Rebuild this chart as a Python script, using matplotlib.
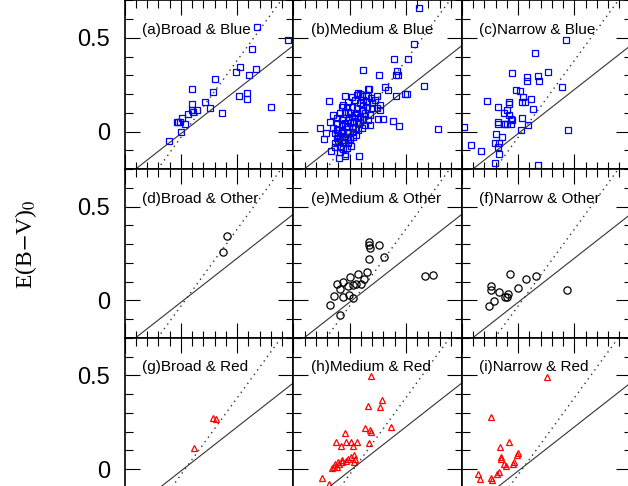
import numpy as np
import matplotlib.pyplot as plt
from matplotlib.ticker import MultipleLocator, FuncFormatter

plt.rcParams['font.family'] = ['Liberation Sans', 'DejaVu Sans']
plt.rcParams['mathtext.fontset'] = 'stix'

# ---- data: (x, E(B-V)_0) per panel ----
# (a) Broad & Blue
a_x = [0.672, 0.950, 0.628, 0.486, 0.521, 0.607, 0.666, 0.299, 0.100, 0.282, 0.216, 0.100,
       0.255, 0.145, 0.098, 0.107, 0.059, -0.033, 0.006, -0.009, 0.036, -0.003, -0.104,
       0.361, 0.518, 0.583, 0.589, 0.802, -0.025]
a_y = [0.559, 0.491, 0.443, 0.318, 0.347, 0.302, 0.334, 0.282, 0.227, 0.213, 0.157, 0.148,
       0.125, 0.118, 0.116, 0.105, 0.093, 0.052, 0.072, 0.050, 0.041, -0.003, -0.048,
       0.099, 0.193, 0.206, 0.175, 0.131, 0.052]

# (b) Medium & Blue
b_x = [0.622, 0.569, 0.392, 0.519, 0.122, 0.424, 0.41, 0.43, 0.264, 0.661, 0.317, 0.34,
       0.170, 0.41, 0.49, 0.51, -0.183, 0.246, 0.27, 0.791, 0.436, 0.383, 0.299, 0.25,
       -0.266, -0.210, -0.230, -0.174, -0.168, -0.13, -0.097, -0.04, -0.04, 0.086, 0.015, 0.0,
       0.078, 0.093, 0.146, 0.167, 0.161, 0.187, 0.226, 0.240, 0.196, 0.152, 0.122, 0.093,
       0.048, 0.018, -0.011, 0.018, 0.063, 0.107, 0.137, 0.181, 0.167, 0.122, 0.093, 0.048,
       0.004, -0.041, -0.070, -0.085, -0.056, -0.011, 0.033, 0.078, 0.137, 0.181, 0.018, -0.026,
       -0.070, -0.115, -0.144, -0.100, -0.056, -0.011, 0.033, 0.078, -0.085, -0.041, 0.004, -0.070,
       -0.130, -0.100, -0.041, -0.085, -0.026, -0.144, -0.041, 0.063, 0.122, 0.270, 0.196, -0.026,
       -0.115, -0.070, 0.107, 0.057, -0.079, -0.109, -0.056, -0.011, -0.130,
       -0.041, 0.048, 0.004, 0.093, -0.026, -0.070, -0.100, 0.018, 0.063, 0.122, 0.152, 0.107,
       -0.011, -0.056, -0.115, -0.056, -0.085, -0.011, 0.033, 0.078]
b_y = [0.661, 0.468, 0.388, 0.389, 0.327, 0.323, 0.302, 0.302, 0.302, 0.246, 0.238, 0.224,
       0.227, 0.19, 0.20, 0.20, 0.166, 0.191, 0.14, 0.013, 0.031, 0.056, 0.070, 0.069,
       0.021, -0.005, -0.039, 0.052, -0.102, -0.08, -0.141, -0.12, -0.13, -0.130, -0.075, -0.037,
       0.205, 0.202, 0.197, 0.227, 0.188, 0.179, 0.170, 0.125, 0.125, 0.134, 0.143, 0.152,
       0.170, 0.184, 0.161, 0.134, 0.125, 0.116, 0.098, 0.089, 0.063, 0.063, 0.081, 0.089,
       0.098, 0.107, 0.134, 0.098, 0.072, 0.063, 0.054, 0.045, 0.036, 0.036, 0.027, 0.027,
       0.036, 0.045, 0.018, 0.009, 0.000, 0.000, 0.000, 0.009, -0.026, -0.026, -0.026, -0.044,
       -0.009, -0.053, -0.062, -0.080, -0.089, 0.089, 0.188, 0.197, 0.170, 0.116, 0.152, 0.134,
       0.072, 0.063, 0.018, -0.018, -0.009, -0.035, -0.093, -0.044, -0.062,
       0.045, 0.018, 0.045, 0.054, -0.009, 0.009, -0.018, 0.081, 0.098, 0.116, 0.161, 0.188,
       0.107, 0.143, 0.009, -0.053, -0.107, -0.062, -0.026, 0.072]

# (c) Narrow & Blue
c_x = [0.429, 0.151, -0.051, 0.266, 0.083, 0.178, 0.08, 0.189, 0.391, -0.015, 0.015, -0.273,
       0.047, 0.115, 0.035, 0.06, -0.083, -0.08, -0.178, 0.136, -0.100, -0.125, -0.08, -0.065,
       -0.055, 0.038, -0.175, -0.175, -0.13, -0.115, -0.10, -0.06, 0.086, 0.027, -0.480, -0.198,
       -0.14, -0.21, -0.17, -0.420, -0.18, -0.331, -0.166, -0.21, 0.175, 0.447]
c_y = [0.490, 0.420, 0.313, 0.321, 0.293, 0.298, 0.27, 0.268, 0.241, 0.220, 0.215, 0.164,
       0.184, 0.177, 0.160, 0.160, 0.161, 0.148, 0.134, 0.122, 0.116, 0.098, 0.09, 0.07,
       0.06, 0.075, 0.05, 0.04, 0.04, 0.04, 0.04, 0.042, 0.036, 0.009, 0.023, -0.014,
       -0.029, -0.058, -0.058, -0.073, -0.08, -0.103, -0.121, -0.166, -0.175, 0.009]

# (d) Broad & Other
d_x = [0.406, 0.373]
d_y = [0.341, 0.257]

# (e) Medium & Other
e_x = [0.170, 0.175, 0.178, 0.264, 0.175, 0.308, 0.152, 0.072, 0.128, 0.006, -0.056, -0.115,
       0.060, 0.101, -0.017, 0.035, -0.083, -0.136, -0.056, -0.006, 0.028, -0.171, -0.085,
       0.667, 0.738]
e_y = [0.311, 0.297, 0.281, 0.297, 0.223, 0.232, 0.154, 0.141, 0.115, 0.123, 0.100, 0.088,
       0.089, 0.089, 0.079, 0.082, 0.059, 0.022, 0.018, 0.029, 0.011, -0.023, -0.077,
       0.132, 0.138]

# (f) Narrow & Other
f_x = [-0.071, 0.157, 0.071, 0.003, -0.242, -0.242, -0.171, -0.086, -0.12, -0.10, -0.219,
       -0.258, 0.435]
f_y = [0.141, 0.129, 0.112, 0.064, 0.075, 0.054, 0.043, 0.032, 0.02, 0.02, -0.005,
       -0.028, 0.057]

# (g) Broad & Red
g_x = [0.281, 0.311, 0.118]
g_y = [0.272, 0.268, 0.114]

# (h) Medium & Red
h_x = [0.193, 0.288, 0.267, 0.163, 0.14, 0.18, 0.19, 0.365, -0.044, 0.175, -0.121, -0.08,
       -0.03, 0.01, 0.03, 0.07, 0.036, 0.01, 0.05, -0.01, -0.03, -0.07, -0.10, -0.13, -0.09,
       -0.14, -0.11, -0.16, -0.07, -0.245, -0.183, 0.04]
h_y = [0.496, 0.371, 0.330, 0.336, 0.218, 0.21, 0.20, 0.223, 0.193, 0.138, 0.145, 0.123,
       0.145, 0.145, 0.123, 0.145, 0.075, 0.062, 0.053, 0.053, 0.045, 0.048, 0.038, 0.029, 0.025,
       0.009, 0.009, 0.004, 0.036, -0.045, -0.079, 0.04]

# (i) Narrow & Red
i_x = [0.255, -0.240, -0.077, -0.163, -0.003, -0.009, -0.15, -0.15, -0.128, -0.04, -0.05,
       -0.11, -0.174, -0.19, -0.355, -0.34, -0.24, -0.23]
i_y = [0.489, 0.279, 0.146, 0.119, 0.086, 0.075, 0.063, 0.055, 0.027, 0.04, 0.025,
       0.014, -0.018, -0.027, -0.025, -0.054, -0.045, -0.057]

widths = ['Broad', 'Medium', 'Narrow']
groups = ['Blue', 'Other', 'Red']
letters = 'abcdefghi'
xs = [a_x, b_x, c_x, d_x, e_x, f_x, g_x, h_x, i_x]
ys = [a_y, b_y, c_y, d_y, e_y, f_y, g_y, h_y, i_y]
styles = {'Blue': dict(marker='s', ms=4.2, mec='#0000ff'),
          'Other': dict(marker='o', ms=5.2, mec='black'),
          'Red': dict(marker='^', ms=5.0, mec='#ff0000')}

# reference relations
fit_solid = (0.47, -0.01)
fit_dot = (0.82, -0.03)

W, H = 628, 486
fig = plt.figure(figsize=(W / 100, H / 100), dpi=100)
col_left = [124.7, 293.3, 461.9]
row_top = [0.5, 169.2, 337.9]
pw, ph = 168.7, 168.7

xline = np.array([-0.5, 1.0])
for r in range(3):
    for c in range(3):
        k = r * 3 + c
        ax = fig.add_axes([col_left[c] / W, 1 - (row_top[r] + ph) / H, pw / W, ph / H])
        ax.plot(xs[k], ys[k], ls='none', mfc='none', mew=0.9, **styles[groups[r]])
        ax.plot(xline, fit_solid[0] * xline + fit_solid[1], color='#333333', lw=0.8)
        ax.plot(xline, fit_dot[0] * xline + fit_dot[1], color='#333333', lw=1.0,
                ls=(0, (1, 3)))
        ax.set_xlim(-0.5, 1.0)
        ax.set_ylim(-0.2, 0.7)
        ax.xaxis.set_major_locator(MultipleLocator(0.5))
        ax.xaxis.set_minor_locator(MultipleLocator(0.1))
        ax.yaxis.set_major_locator(MultipleLocator(0.5))
        ax.yaxis.set_minor_locator(MultipleLocator(0.1))
        ax.tick_params(which='both', direction='in', top=True, right=True,
                       labelbottom=False, width=0.8, color='black')
        ax.tick_params(which='major', length=10.8, pad=10.5, labelsize=17)
        ax.tick_params(which='minor', length=5.4)
        ax.yaxis.set_major_formatter(FuncFormatter(lambda v, p: '0' if abs(v) < 1e-9 else f'{v:g}'))
        if c > 0:
            ax.tick_params(labelleft=False)
        for s in ax.spines.values():
            s.set_linewidth(1.2)
        ax.text(0.104, 0.825, f'({letters[k]}){widths[c]} & {groups[r]}',
                transform=ax.transAxes, fontsize=11, va='center', ha='left')

fig.text(0.041, 0.497, r'E(B$-$V)$_0$', rotation=90, fontsize=17,
         family='Liberation Serif', ha='center', va='center')

fig.savefig('out.png', dpi=100)
